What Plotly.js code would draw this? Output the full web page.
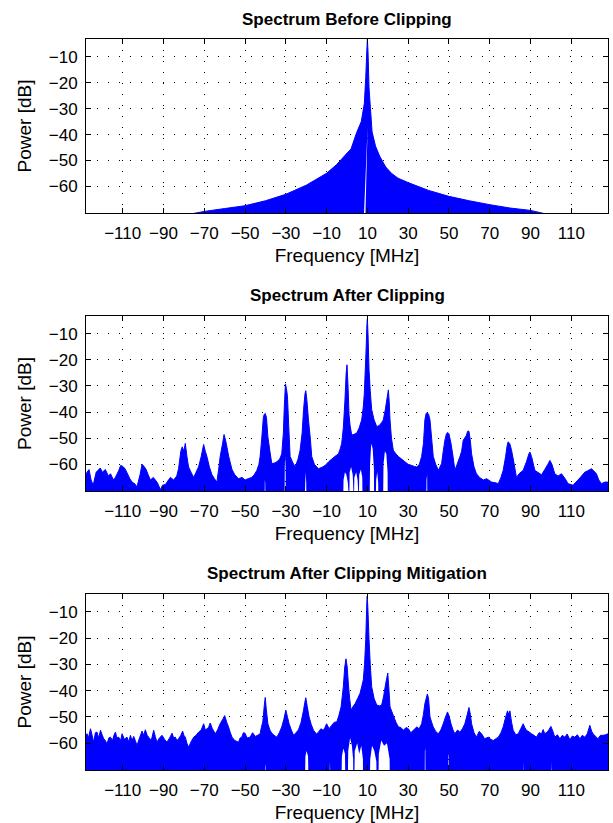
<!DOCTYPE html>
<html>
<head>
<meta charset="utf-8">
<script src="https://cdn.plot.ly/plotly-3.0.1.min.js"></script>
<style>html,body{margin:0;padding:0;background:#fff;}#chart{width:613px;height:823px;}</style>
</head>
<body>
<div id="chart"></div>
<script>
// ---- Data (frequency MHz, power dB) ----
// Upper envelope of the dense spectrum trace, per panel
const beforeUpper = [[-128,-75],[-76,-70.5],[-70,-69.6],[-60,-68.5],[-50,-67.4],[-40,-65.5],[-30,-63],[-20,-59.5],[-10,-54.9],[-5,-51.5],[-1.3,-48.3],[2,-45.5],[4.7,-39.3],[7,-35],[8.5,-28],[9.2,-18],[9.7,-8],[10,-3.3],[10.3,-8],[10.8,-22],[11.5,-30],[12.3,-39],[14,-44.5],[16,-48.3],[19,-52.5],[21.8,-54.9],[25,-56.8],[30,-58.5],[40,-61.5],[50,-63.8],[60,-65.5],[70,-67],[80,-68.3],[90,-69.2],[96,-70.3],[128,-75]];
// Lower boundary of the trace (white notches reaching up from the floor)
const beforeLower = [[-128,-75],[8.1,-75],[10.1,-37],[8.9,-75],[128,-75]];

const afterUpper = [[-128,-64],[-127.5,-63],[-126.5,-62],[-125.5,-66],[-124.5,-68],[-123,-63],[-121,-61.4],[-120,-63],[-118.5,-62],[-117,-64.5],[-116,-63.6],[-114.5,-66],[-113.6,-65],[-112,-62.5],[-111,-60.4],[-110,-60.8],[-109,-61.5],[-108,-63],[-106.5,-65.5],[-105.4,-66.8],[-104,-67.5],[-103,-68.7],[-101.5,-64],[-100.5,-60],[-99.5,-60.8],[-98.5,-62],[-97.5,-64],[-96.4,-66],[-95,-65],[-93,-67],[-91.5,-69.7],[-90.5,-68],[-89,-67.7],[-88,-66.5],[-86.6,-65],[-85,-66],[-83.5,-64.5],[-82.6,-61.7],[-81.5,-55],[-80.8,-53.3],[-80,-55],[-79.3,-52],[-78.5,-57],[-77.7,-61],[-76.5,-63],[-75.2,-65],[-74,-63],[-72.8,-61],[-71.5,-57],[-70.3,-52.4],[-69.5,-55],[-68.7,-57],[-67.5,-61],[-66.2,-64],[-65,-65.5],[-63.8,-66.8],[-62.8,-61],[-62.2,-57],[-61,-52],[-60.3,-48.6],[-59.5,-51],[-58,-57],[-56.4,-62],[-55,-64],[-53.2,-65.5],[-51.5,-65],[-50,-66],[-48.5,-65.5],[-46.7,-65],[-45.5,-64],[-44.2,-62.3],[-43.2,-60],[-42.6,-57],[-41.8,-50],[-41,-41.8],[-40.5,-40.8],[-40.1,-40.5],[-39.5,-42],[-38.8,-49.5],[-37.8,-55],[-36.9,-59.7],[-35.5,-59.5],[-34.4,-59],[-33,-58],[-32,-56],[-31.2,-48],[-30.8,-39],[-30.2,-29.2],[-29.7,-31],[-29.2,-34],[-28.6,-45],[-27.9,-57],[-26.5,-59.5],[-25.4,-61],[-24,-58],[-23,-54.6],[-22,-48],[-21.3,-39],[-20.6,-33],[-20.2,-31.8],[-19.6,-36],[-18.9,-43],[-18,-50],[-17.3,-57],[-16,-60],[-14,-61.7],[-12,-61],[-10.7,-60.4],[-9,-59],[-7.5,-58],[-6,-57],[-4.2,-56],[-3.3,-54],[-2.6,-52],[-1.8,-46],[-1,-35.4],[-0.4,-25],[0,-21.9],[0.5,-30],[1,-41],[1.5,-45],[2.3,-48.8],[3.5,-48.5],[4.8,-48],[6,-46],[7.2,-43],[8,-38],[8.5,-32.8],[9.3,-17.4],[9.8,-6],[10,-4.3],[10.3,-10],[10.8,-23.8],[11.4,-32],[12.1,-39],[13.3,-43],[14.6,-45.6],[16,-45],[17,-44],[17.8,-43],[18.8,-39],[19.5,-35.4],[20.3,-31.5],[20.7,-36],[21.1,-43],[21.8,-50],[22.7,-54.6],[24,-56],[25.2,-57],[26.8,-58],[28.4,-59],[30,-60],[31.7,-60.4],[33,-60.8],[34.2,-61],[35.5,-60],[36.6,-57],[37.5,-52],[38.2,-43],[38.8,-40.5],[39.4,-40.3],[40,-40.8],[40.7,-43],[41.5,-50],[42.3,-57],[43.5,-60],[44.8,-62.3],[45.6,-61],[46.4,-59.7],[47.2,-55],[48,-50.8],[48.7,-48.5],[49.3,-47.8],[50,-48.3],[51,-52],[52,-57],[52.9,-62.3],[54,-60],[55.4,-57],[56.2,-55],[57,-50.8],[58.5,-49],[59.2,-47.3],[59.8,-47.3],[60.5,-51],[61.1,-56],[62.3,-61],[63.5,-63.6],[65,-65],[66.8,-66],[68.5,-65.5],[70.9,-66.8],[72.5,-67],[74.2,-67.4],[75.5,-65],[76.6,-62.3],[77.8,-57],[78.5,-53],[79,-51.4],[79.8,-52],[80.7,-54.6],[82,-60],[83.1,-65],[84.5,-63.5],[86.4,-62.3],[88,-59],[89.2,-56],[89.7,-55.3],[90.5,-57],[92.1,-62.3],[93.5,-63],[95.4,-64],[97,-62],[98.5,-60],[99.5,-58.5],[100.5,-60],[101.9,-63.6],[103.5,-64.5],[105.2,-63.6],[107,-65.5],[108.4,-67.4],[110.9,-68],[112,-67],[113.3,-66],[115,-64.5],[116.6,-63],[118,-62.5],[119.9,-61.7],[121,-62.5],[122.3,-63.6],[123.5,-66],[124.8,-67.4],[126.4,-66.8],[128,-66.8]];
const afterLower = [[-128,-75],[-40.4,-75],[-40.3,-66],[-40.1,-67],[-40.0,-75],[-30.6,-75],[-30.5,-60],[-30.3,-57],[-30.1,-62],[-30.0,-75],[-20.8,-75],[-20.6,-66],[-20.3,-63],[-20.0,-67],[-19.9,-75],[-1.9,-75],[-1.7,-66],[-1.0,-63],[-0.3,-64],[0.4,-67],[0.5,-75],[1.1,-75],[1.3,-63],[2.0,-61],[2.8,-64],[2.9,-75],[3.4,-75],[3.6,-65],[4.5,-63],[5.2,-66],[5.3,-75],[5.8,-75],[6.0,-64],[6.8,-62],[7.5,-65],[7.6,-75],[11.1,-75],[11.3,-60],[11.9,-52],[12.6,-54],[13.2,-62],[13.3,-75],[14.1,-75],[14.3,-66],[14.8,-63],[15.3,-67],[15.4,-75],[17.7,-75],[17.9,-60],[18.6,-55],[19.3,-56],[19.9,-63],[20.0,-75],[38.9,-75],[39.0,-66],[39.3,-64],[39.4,-75],[128,-75]];

const mitigUpper = [[-128,-57],[-127.5,-56.4],[-126.8,-58],[-125.8,-54.5],[-125,-57],[-124.2,-59.6],[-123.4,-56],[-122.6,-55.8],[-121.8,-58],[-120.9,-55.1],[-120,-57],[-119.3,-58.3],[-118.5,-59],[-117.7,-60.3],[-116.8,-58],[-116,-57.7],[-115,-59],[-114.3,-57],[-113.6,-55.8],[-112.8,-58],[-112,-57.7],[-111,-59],[-110.3,-56.4],[-109.2,-58.5],[-107.9,-57.7],[-107,-59.5],[-106.2,-57],[-105.4,-59],[-104.6,-57.4],[-103.8,-59],[-103,-60.9],[-102,-58.5],[-100.5,-55.4],[-99.7,-57],[-98.9,-54.9],[-98,-57],[-97.3,-57.7],[-96,-59],[-94.8,-55.1],[-94,-57.5],[-93.2,-59.6],[-92,-58],[-90.7,-57],[-89.5,-58.5],[-88.3,-59.6],[-87,-58],[-85.8,-56.2],[-85,-58],[-84.2,-57.7],[-83.4,-59],[-82.6,-58.3],[-81.5,-57],[-80.6,-55.4],[-80,-57],[-79.3,-57.7],[-78.5,-60],[-77.7,-61.5],[-76.5,-59.5],[-75.2,-57.7],[-74,-57],[-72.8,-55.8],[-71.5,-55],[-70.3,-52.6],[-69.5,-55],[-68.7,-54.5],[-67.9,-54],[-67.1,-52.3],[-66,-54.5],[-64.6,-56.4],[-63.5,-55],[-62.2,-52.6],[-61,-51],[-60,-49.5],[-59,-52],[-58.1,-53.8],[-57.2,-56],[-56.4,-57.7],[-55,-59],[-53.2,-59.6],[-52.4,-58],[-51.6,-57.7],[-50.8,-56],[-50,-56.2],[-49,-58],[-47.5,-57.7],[-46.3,-56],[-45,-57.4],[-43.8,-57],[-42.6,-56.4],[-42,-54],[-41.3,-51.9],[-40.6,-46],[-40.1,-42.6],[-39.6,-47],[-38.8,-52.6],[-37.8,-55],[-36.9,-56.2],[-35.7,-57],[-34.4,-57.7],[-33.2,-56],[-32,-53.8],[-31,-51],[-30,-47.4],[-29.2,-50],[-28.4,-52.6],[-27.3,-55],[-26.2,-57],[-25,-56],[-23.8,-54.9],[-22.5,-52],[-21.3,-47.4],[-20.7,-44.5],[-20.2,-42.7],[-19.5,-46],[-18.6,-50],[-17.5,-53],[-16.4,-55.1],[-15,-56.5],[-14,-55.8],[-12.8,-54.5],[-11.6,-55.1],[-10.8,-54],[-10,-52.6],[-8.8,-54.5],[-7.5,-53.2],[-6.2,-52],[-5,-51.9],[-4,-49.5],[-2.9,-46.2],[-1.8,-38.5],[-1.1,-31],[-0.5,-27.9],[0.1,-31],[0.7,-37.8],[1.3,-43],[2,-47.4],[3,-46],[4,-44.9],[5.2,-43],[6.4,-41],[7.2,-38.5],[8,-35.9],[8.6,-30],[9.2,-20.5],[9.7,-7],[9.9,-4.1],[10.2,-8],[10.8,-20.5],[11.4,-30],[12.1,-38.5],[13.3,-43],[14.6,-45.5],[16,-45.8],[17,-45.5],[18,-42],[19,-37.2],[20,-33.3],[20.6,-40],[21.1,-46.2],[22.7,-49.4],[24,-52],[25.2,-53.8],[26.4,-54],[27.6,-55.1],[29,-54],[30.1,-54.5],[31.3,-56],[32.5,-55.1],[34.2,-53.8],[35.4,-54.5],[36.6,-52.6],[37.5,-49],[38.2,-44.9],[39.4,-41.3],[40,-43],[40.7,-50],[41.5,-52],[42.3,-53.8],[43.5,-55.5],[44.8,-56.4],[46,-55],[47.2,-52.6],[48.3,-50],[49.3,-48.1],[50.2,-50],[51,-52.6],[52,-55],[52.9,-56.4],[54.2,-55],[55.4,-55.8],[56.6,-54.5],[57.8,-52.6],[59,-49],[59.8,-46.4],[60.5,-49],[61.1,-52.6],[62.3,-56],[63.5,-57.7],[64.8,-55.5],[66,-56.4],[67.5,-58.3],[69.3,-57.7],[70.5,-58.5],[71.7,-59],[73,-58.3],[74.2,-57.7],[75.5,-56],[76.6,-53.8],[77.5,-51],[78.7,-47.7],[79.3,-49],[79.9,-47.7],[80.7,-52],[81.5,-55.1],[82.8,-56.8],[84,-56.4],[85.2,-54.5],[86.4,-52.6],[87.2,-54],[88,-55.1],[89.3,-55.7],[90.5,-56.4],[91.7,-57],[92.9,-57.7],[94.2,-56],[95.4,-56.4],[96.2,-54.8],[97,-56.4],[98.5,-55.5],[100,-53.6],[101,-55.5],[101.9,-57.7],[103.2,-56.8],[104.4,-58.3],[105.6,-57],[106.8,-57.7],[108,-56.5],[109.3,-58.7],[110.5,-57.3],[111.7,-57.7],[113,-56.8],[114.2,-58.3],[115.4,-57],[116.6,-57.7],[117.8,-56.5],[119.1,-53.2],[120,-55.5],[120.7,-56.4],[122,-57.5],[123.1,-58.3],[124.3,-57],[125.6,-57],[126.8,-56.8],[128,-56.4]];
const mitigLower = [[-128,-75],[-40.3,-75],[-40.2,-68],[-40.0,-69],[-39.9,-75],[-20.6,-75],[-20.4,-65],[-19.8,-63],[-19.1,-65],[-18.9,-75],[-8.5,-75],[-8.4,-67],[-8.1,-68],[-8.0,-75],[-2.7,-75],[-2.5,-65],[-1.8,-62],[-1.0,-64],[-0.8,-75],[0.4,-75],[0.6,-63],[1.5,-58],[2.4,-61],[3.0,-66],[3.1,-75],[3.6,-75],[3.8,-63],[5,-60],[6,-64],[7,-61],[7.8,-66],[7.9,-75],[11.2,-75],[11.4,-66],[12.3,-61],[13.4,-63],[14.4,-67],[14.5,-75],[15.4,-75],[15.6,-64],[16.8,-59],[18.2,-61],[19.6,-60],[20.9,-66],[21.0,-75],[38.1,-75],[38.2,-63],[38.4,-62],[38.5,-75],[49.5,-75],[49.6,-65],[49.8,-64],[49.9,-75],[86.3,-75],[86.4,-67],[86.6,-75],[100.2,-75],[100.3,-67],[100.5,-75],[128,-75]];

const panelTitles = ['Spectrum Before Clipping', 'Spectrum After Clipping', 'Spectrum After Clipping Mitigation'];
const xTickVals = [-110, -90, -70, -50, -30, -10, 10, 30, 50, 70, 90, 110];
const yTickVals = [-60, -50, -40, -30, -20, -10];
const xLabel = 'Frequency [MHz]';
const yLabel = 'Power [dB]';

// ---- Build ----
const BLUE = '#0000ff';
const FONT = 'Liberation Sans, Arial, Helvetica, sans-serif';
const panels = [[beforeLower, beforeUpper], [afterLower, afterUpper], [mitigLower, mitigUpper]];
const domains = [[0.762, 1.0], [0.3817, 0.6211], [0.0, 0.2408]];

const traces = [];
panels.forEach((p, i) => {
  const xa = i === 0 ? 'x' : 'x' + (i + 1);
  const ya = i === 0 ? 'y' : 'y' + (i + 1);
  traces.push({
    type: 'scatter', mode: 'lines', xaxis: xa, yaxis: ya,
    x: p[0].map(d => d[0]), y: p[0].map(d => d[1]),
    line: {width: 0, color: BLUE}, hoverinfo: 'skip', showlegend: false
  });
  traces.push({
    type: 'scatter', mode: 'lines', xaxis: xa, yaxis: ya,
    x: p[1].map(d => d[0]), y: p[1].map(d => d[1]),
    fill: 'tonexty', fillcolor: BLUE,
    line: {width: 1, color: BLUE, simplify: false}, showlegend: false
  });
});

const layout = {
  width: 613, height: 823,
  margin: {l: 86, r: 5, t: 39, b: 53},
  paper_bgcolor: '#fff', plot_bgcolor: '#fff',
  showlegend: false, hovermode: false,
  font: {family: FONT, size: 17, color: '#000'},
  annotations: []
};

panels.forEach((p, i) => {
  const sfx = i === 0 ? '' : String(i + 1);
  layout['xaxis' + sfx] = {
    anchor: 'y' + sfx, domain: [0, 1], range: [-128, 128],
    tickmode: 'array', tickvals: xTickVals,
    ticks: 'inside', ticklen: 5, tickcolor: '#000', tickwidth: 1,
    ticklabelstandoff: 5,
    showline: true, linecolor: '#000', linewidth: 1, mirror: 'ticks',
    showgrid: true, gridcolor: '#000', gridwidth: 1, griddash: '1px,10px',
    zeroline: false, tickfont: {family: FONT, size: 17, color: '#000'},
    title: {text: xLabel, font: {family: FONT, size: 19, color: '#000'}, standoff: 6}
  };
  layout['yaxis' + sfx] = {
    anchor: 'x' + sfx, domain: domains[i], range: [-70.2, -3.2],
    tickmode: 'array', tickvals: yTickVals,
    ticks: 'inside', ticklen: 5, tickcolor: '#000', tickwidth: 1,
    ticklabelstandoff: 4,
    showline: true, linecolor: '#000', linewidth: 1, mirror: 'ticks',
    showgrid: true, gridcolor: '#000', gridwidth: 1, griddash: '1px,10px',
    zeroline: false, tickfont: {family: FONT, size: 17, color: '#000'},
    title: {text: yLabel, font: {family: FONT, size: 19, color: '#000'}, standoff: 12}
  };
  layout.annotations.push({
    text: '<b>' + panelTitles[i] + '</b>',
    xref: 'x' + sfx + ' domain', yref: 'y' + sfx + ' domain',
    x: 0.5, y: 1, xanchor: 'center', yanchor: 'middle', yshift: 20,
    showarrow: false, font: {family: FONT, size: 17, color: '#000'}
  });
});

Plotly.newPlot('chart', traces, layout, {staticPlot: true, displayModeBar: false});
</script>
</body>
</html>
